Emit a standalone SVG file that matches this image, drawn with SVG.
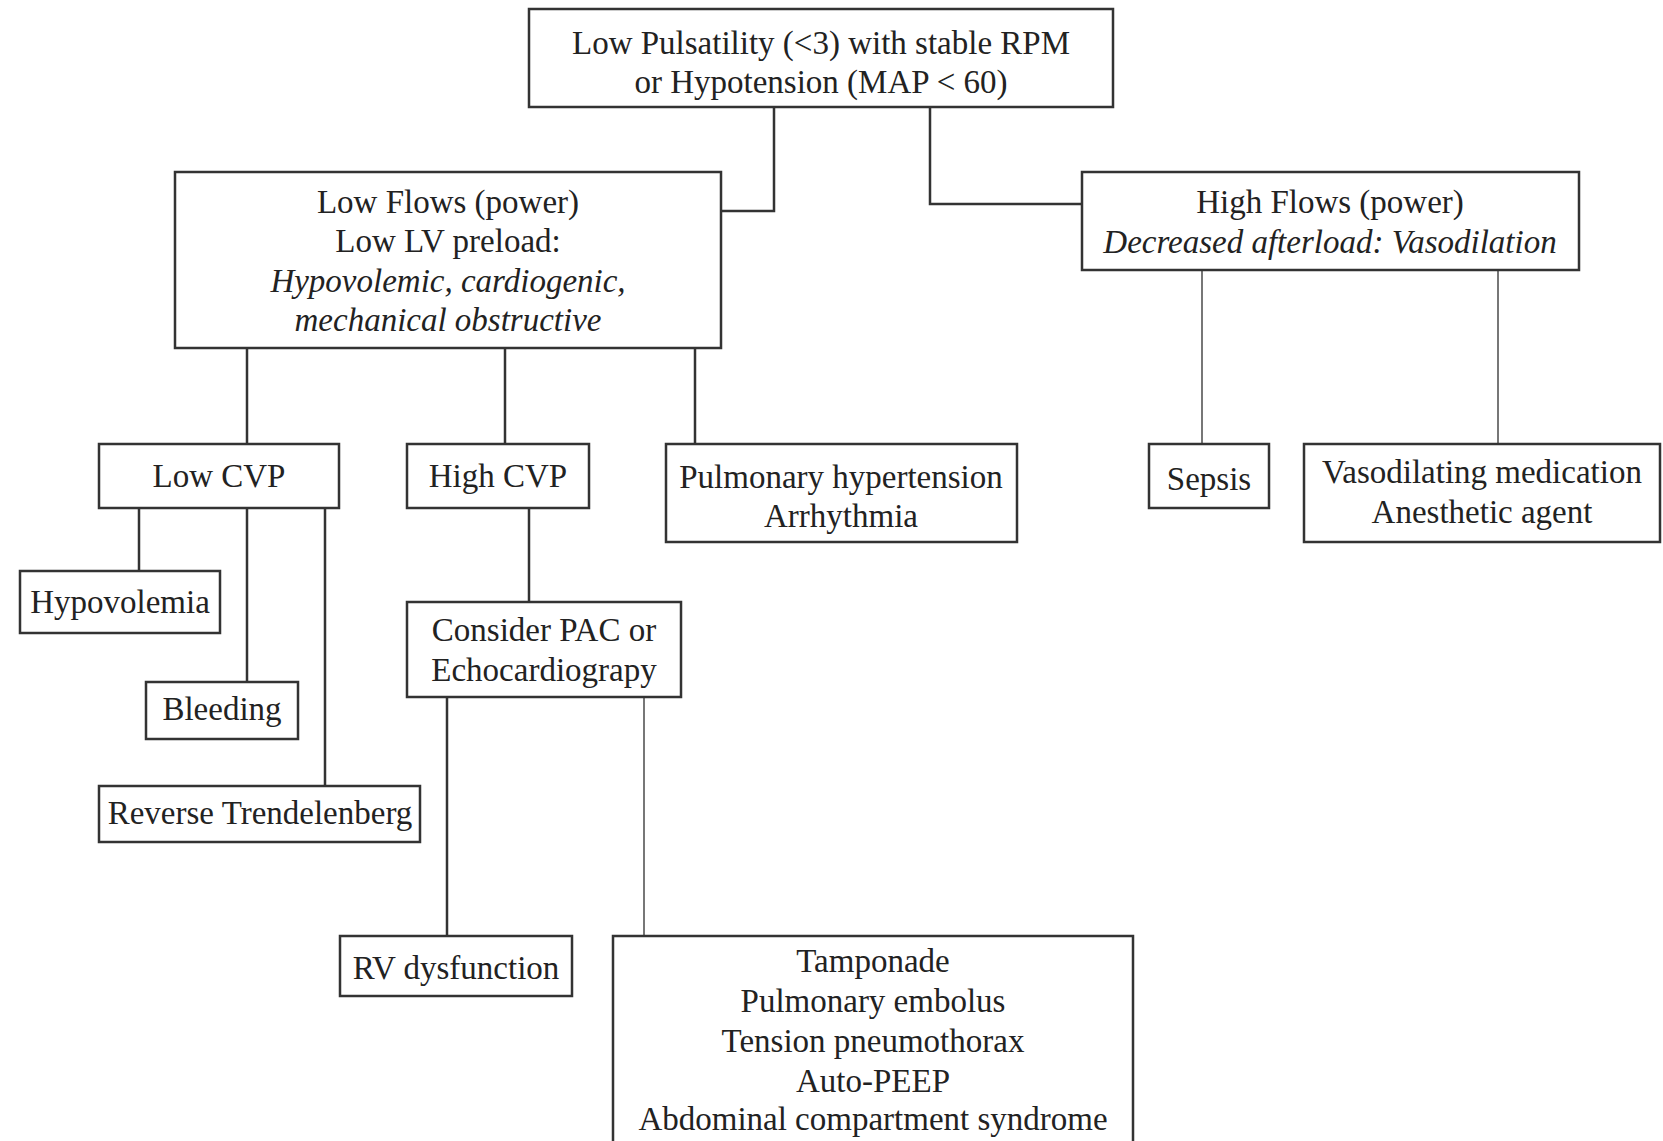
<svg xmlns="http://www.w3.org/2000/svg" width="1663" height="1141" viewBox="0 0 1663 1141">
<style>
.box{fill:#fff;stroke:#333;stroke-width:2.5}
.t{font-family:"Liberation Serif","Times New Roman",serif;font-size:33px;fill:#222;text-anchor:middle}
.i{font-style:italic}
.c{fill:none;stroke:#333;stroke-width:2.5}
.thin{fill:none;stroke:#555;stroke-width:1.6}
</style>
<rect width="1663" height="1141" fill="#fff"/>
<g id="connectors">
<polyline class="c" points="774,107 774,211 721,211"/>
<polyline class="c" points="930,107 930,204 1082,204"/>
<line class="thin" x1="1202" y1="270" x2="1202" y2="444"/>
<line class="thin" x1="1498" y1="270" x2="1498" y2="444"/>
<line class="c" x1="247" y1="348" x2="247" y2="444"/>
<line class="c" x1="505" y1="348" x2="505" y2="444"/>
<line class="c" x1="695" y1="348" x2="695" y2="444"/>
<line class="c" x1="139" y1="508" x2="139" y2="571"/>
<line class="c" x1="247" y1="508" x2="247" y2="682"/>
<line class="c" x1="325" y1="508" x2="325" y2="786"/>
<line class="c" x1="529" y1="508" x2="529" y2="602"/>
<line class="c" x1="447" y1="697" x2="447" y2="936"/>
<line class="thin" x1="644" y1="697" x2="644" y2="936"/>
</g>
<g id="top">
<rect class="box" x="529" y="9" width="584" height="98"/>
<text class="t" x="821" y="54">Low Pulsatility (&lt;3) with stable RPM</text>
<text class="t" x="821" y="93">or Hypotension (MAP &lt; 60)</text>
</g>
<g id="lowflows">
<rect class="box" x="175" y="172" width="546" height="176"/>
<text class="t" x="448" y="213">Low Flows (power)</text>
<text class="t" x="448" y="252">Low LV preload:</text>
<text class="t i" x="448" y="292">Hypovolemic, cardiogenic,</text>
<text class="t i" x="448" y="331">mechanical obstructive</text>
</g>
<g id="highflows">
<rect class="box" x="1082" y="172" width="497" height="98"/>
<text class="t" x="1330" y="213">High Flows (power)</text>
<text class="t i" x="1330" y="253">Decreased afterload: Vasodilation</text>
</g>
<g id="sepsis">
<rect class="box" x="1149" y="444" width="120" height="64"/>
<text class="t" x="1209" y="490">Sepsis</text>
</g>
<g id="vasodilating">
<rect class="box" x="1304" y="444" width="356" height="98"/>
<text class="t" x="1482" y="483">Vasodilating medication</text>
<text class="t" x="1482" y="523">Anesthetic agent</text>
</g>
<g id="lowcvp">
<rect class="box" x="99" y="444" width="240" height="64"/>
<text class="t" x="219" y="487">Low CVP</text>
</g>
<g id="highcvp">
<rect class="box" x="407" y="444" width="182" height="64"/>
<text class="t" x="498" y="487">High CVP</text>
</g>
<g id="pulmonary">
<rect class="box" x="666" y="444" width="351" height="98"/>
<text class="t" x="841" y="488">Pulmonary hypertension</text>
<text class="t" x="841" y="527">Arrhythmia</text>
</g>
<g id="hypovolemia">
<rect class="box" x="20" y="571" width="200" height="62"/>
<text class="t" x="120" y="613">Hypovolemia</text>
</g>
<g id="bleeding">
<rect class="box" x="146" y="682" width="152" height="57"/>
<text class="t" x="222" y="720">Bleeding</text>
</g>
<g id="reverse">
<rect class="box" x="99" y="786" width="321" height="56"/>
<text class="t" x="260" y="824">Reverse Trendelenberg</text>
</g>
<g id="consider">
<rect class="box" x="407" y="602" width="274" height="95"/>
<text class="t" x="544" y="641">Consider PAC or</text>
<text class="t" x="544" y="681">Echocardiograpy</text>
</g>
<g id="rv">
<rect class="box" x="340" y="936" width="232" height="60"/>
<text class="t" x="456" y="979">RV dysfunction</text>
</g>
<g id="obstructive">
<rect class="box" x="613" y="936" width="520" height="220"/>
<text class="t" x="873" y="972">Tamponade</text>
<text class="t" x="873" y="1012">Pulmonary embolus</text>
<text class="t" x="873" y="1052">Tension pneumothorax</text>
<text class="t" x="873" y="1092">Auto-PEEP</text>
<text class="t" x="873" y="1130">Abdominal compartment syndrome</text>
</g>
</svg>
